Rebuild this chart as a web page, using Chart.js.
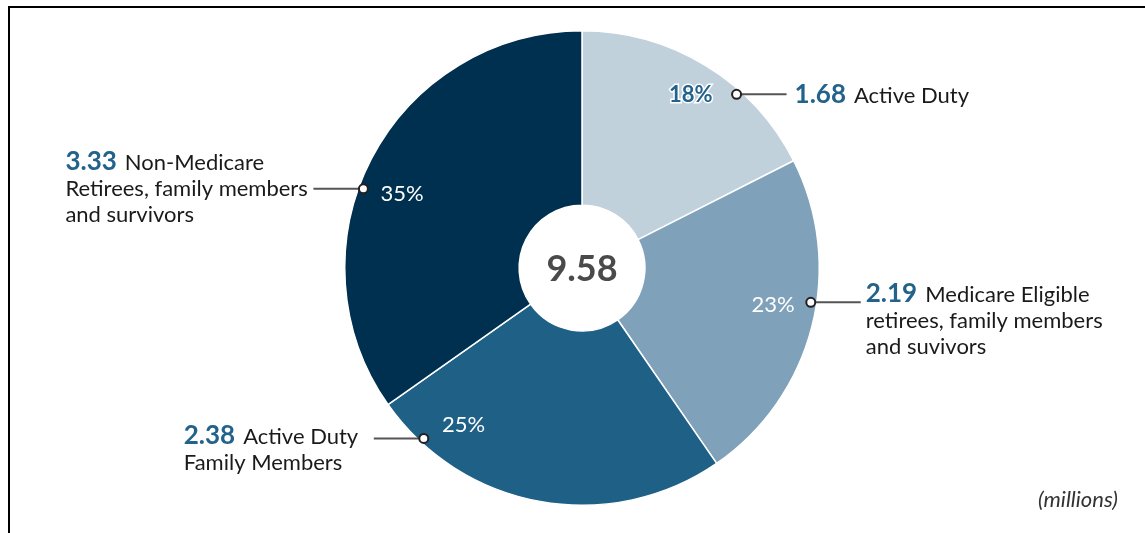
<!DOCTYPE html>
<html>
<head>
<meta charset="utf-8">
<script src="https://cdn.jsdelivr.net/npm/chart.js@4"></script>
<style>
  html, body { margin: 0; padding: 0; background: #fff; overflow: hidden; }
  #wrap { position: relative; width: 1145px; height: 533px; }
  #frame { position: absolute; left: 8px; top: 6px; right: 0; bottom: 0; border-left: 2px solid #000; border-top: 2px solid #000; }
  canvas { position: absolute; left: 0; top: 0; }
</style>
</head>
<body>
<div id="wrap">
  <div id="frame"></div>
  <canvas id="pieChart" width="1145" height="533"></canvas>
</div>
<script>
// Data
const categories = ['Active Duty', 'Medicare Eligible retirees, family members and suvivors', 'Active Duty Family Members', 'Non-Medicare Retirees, family members and survivors'];
const values = [1.68, 2.19, 2.38, 3.33];
const percentLabels = ['18%', '23%', '25%', '35%'];
const labelLines = [
  ['Active Duty'],
  ['Medicare Eligible', 'retirees, family members', 'and suvivors'],
  ['Active Duty', 'Family Members'],
  ['Non-Medicare', 'Retirees, family members', 'and survivors']
];
const totalLabel = '9.58';
const unitLabel = '(millions)';

// Style
const COLORS = ['#c1d1dc', '#7fa1b9', '#1f6087', '#00304f'];
const NUM_BLUE = '#23628a';
const TEXT = '#1a1a1a';
const FONT = 'Lato, "Open Sans", sans-serif';

// where along each slice (0..1) the dot and the percent sit, and text layout
const LAYOUT = [
  { dotT: 0.66, dotR: 0.98, pctT: 0.51, pctR: 0.86, side: 'right', lineLen: 50, tx: 8, ty: 9 },
  { dotT: 0.43, dotR: 0.975, pctT: 0.46, pctR: 0.82, side: 'right', lineLen: 50, tx: 5, ty: 0 },
  { dotT: 0.866, dotR: 0.98, pctT: 0.80, pctR: 0.83, side: 'left', lineLen: 50, tx: -240, ty: 6 },
  { dotT: 0.44, dotR: 0.98, pctT: 0.46, pctR: 0.82, side: 'left', lineLen: 50, tx: -298, ty: -19 }
];

function pointOnArc(arc, t, rf) {
  const a = arc.startAngle + (arc.endAngle - arc.startAngle) * t;
  const r = arc.outerRadius * rf;
  return { x: arc.x + Math.cos(a) * r, y: arc.y + Math.sin(a) * r };
}

const labelPlugin = {
  id: 'sliceLabels',
  afterDraw(chart) {
    const c = chart.ctx;
    const arcs = chart.getDatasetMeta(0).data;
    c.save();

    arcs.forEach((arc, i) => {
      const L = LAYOUT[i];
      // percent text
      const p = pointOnArc(arc, L.pctT, L.pctR);
      c.textAlign = 'center';
      c.textBaseline = 'middle';
      if (i === 0) {
        c.font = 'bold 22px ' + FONT;
        c.lineWidth = 3;
        c.strokeStyle = '#fff';
        c.strokeText(percentLabels[i], p.x, p.y);
        c.fillStyle = NUM_BLUE;
        c.fillText(percentLabels[i], p.x, p.y);
      } else {
        c.font = '22px ' + FONT;
        c.fillStyle = '#fff';
        c.fillText(percentLabels[i], p.x, p.y);
      }

      // leader line + dot
      const d = pointOnArc(arc, L.dotT, L.dotR);
      const endX = L.side === 'right' ? d.x + L.lineLen : d.x - L.lineLen;
      c.beginPath();
      c.moveTo(d.x, d.y);
      c.lineTo(endX, d.y);
      c.strokeStyle = '#555';
      c.lineWidth = 2;
      c.stroke();
      c.beginPath();
      c.arc(d.x, d.y, 4.5, 0, Math.PI * 2);
      c.fillStyle = '#fff';
      c.fill();
      c.strokeStyle = '#231f20';
      c.lineWidth = 2;
      c.stroke();

      // value + description
      const x0 = L.side === 'right' ? endX + L.tx : d.x + L.tx;
      const y0 = d.y + L.ty;
      c.textAlign = 'left';
      c.textBaseline = 'alphabetic';
      c.font = 'bold 26px ' + FONT;
      c.fillStyle = NUM_BLUE;
      const num = values[i].toFixed(2);
      c.fillText(num, x0, y0);
      const nw = c.measureText(num).width;
      c.font = '22px ' + FONT;
      c.fillStyle = TEXT;
      const lines = labelLines[i];
      c.fillText(lines[0], x0 + nw + 8, y0);
      for (let k = 1; k < lines.length; k++) {
        c.fillText(lines[k], x0, y0 + 26 * k);
      }
    });

    // center total
    const a0 = arcs[0];
    c.textAlign = 'center';
    c.textBaseline = 'middle';
    c.font = 'bold 36px ' + FONT;
    c.fillStyle = '#4a4a4a';
    c.fillText(totalLabel, a0.x, a0.y + 1);

    // units
    c.textAlign = 'right';
    c.textBaseline = 'alphabetic';
    c.font = 'italic 22px ' + FONT;
    c.fillStyle = '#333';
    c.fillText(unitLabel, 1118, 507);
    c.restore();
  }
};

const ctx = document.getElementById('pieChart').getContext('2d');
new Chart(ctx, {
  type: 'doughnut',
  data: {
    labels: categories,
    datasets: [{
      data: values,
      backgroundColor: COLORS,
      borderColor: '#fff',
      borderWidth: 1.5,
      hoverOffset: 0
    }]
  },
  options: {
    responsive: false,
    animation: false,
    cutout: '26.5%',
    layout: { padding: { top: 30, bottom: 27, left: 19, right: 0 } },
    plugins: {
      legend: { display: false },
      tooltip: { enabled: false }
    }
  },
  plugins: [labelPlugin]
});
</script>
</body>
</html>
